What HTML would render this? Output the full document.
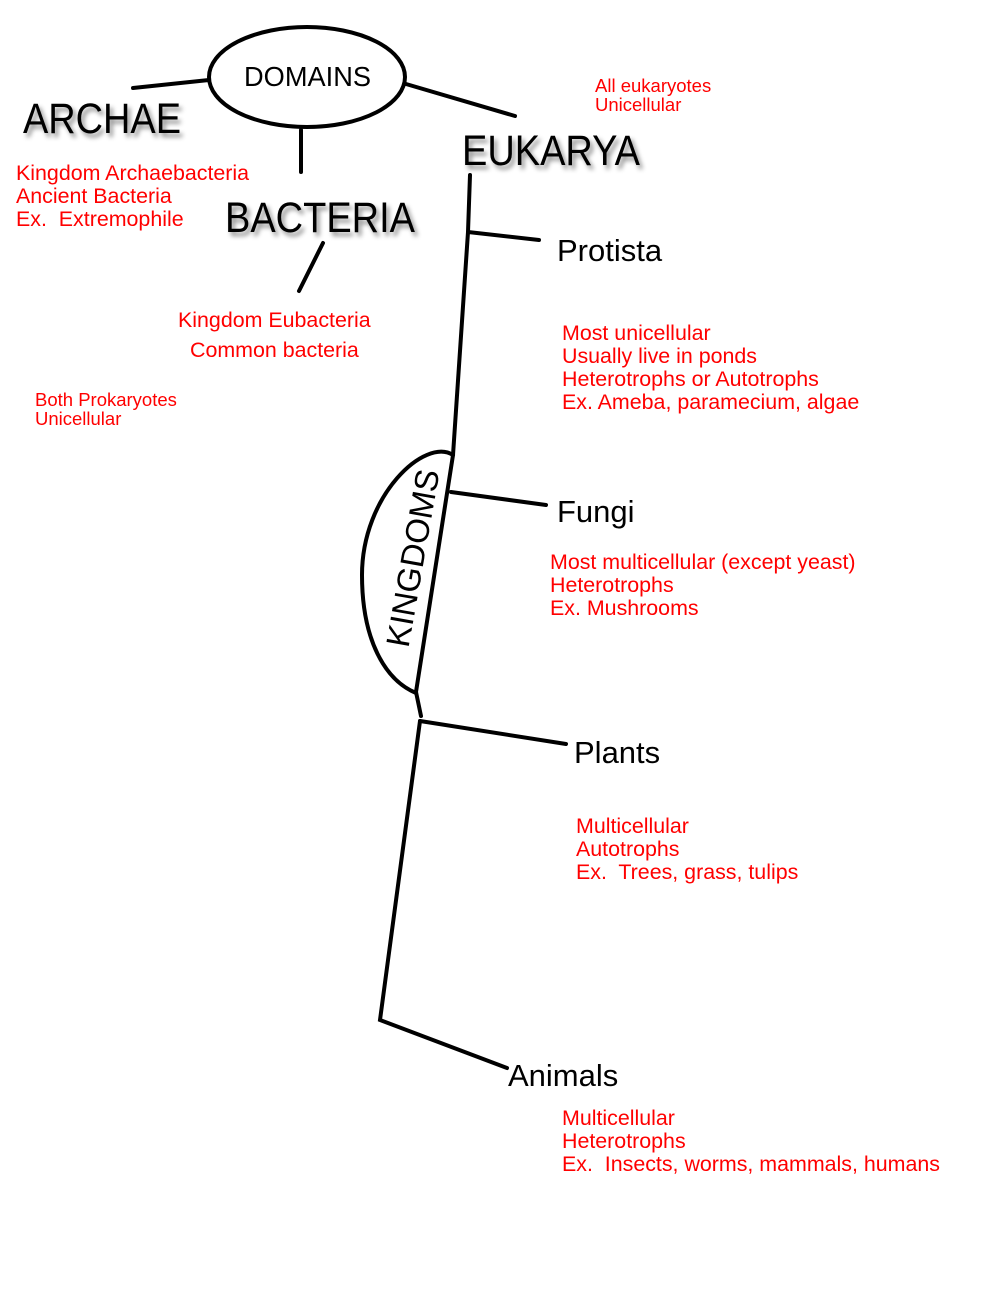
<!DOCTYPE html>
<html><head><meta charset="utf-8"><style>
html,body{margin:0;padding:0;background:#fff;}
svg{display:block;}
text{font-family:"Liberation Sans",sans-serif;white-space:pre;}
.r{fill:#f00;font-size:21.4px;}
.rs{fill:#f00;font-size:18.5px;}
.big{font-size:43px;fill:#000;filter:url(#sh);}
.mid{font-size:31px;fill:#000;}
</style></head><body>
<svg width="1005" height="1300" viewBox="0 0 1005 1300">
<defs><filter id="sh" x="-10%" y="-20%" width="130%" height="160%"><feDropShadow dx="3" dy="4" stdDeviation="2.5" flood-color="#000" flood-opacity="0.45"/></filter></defs>
<g stroke="#000" stroke-width="4" fill="none" stroke-linecap="round">
<ellipse cx="307" cy="77" rx="98" ry="50"/>
<line x1="133" y1="88" x2="209" y2="80"/>
<line x1="406" y1="84" x2="515" y2="116"/>
<line x1="301" y1="130" x2="301" y2="172"/>
<line x1="323" y1="243" x2="299" y2="291"/>
<polyline points="470,175 468,232 453,455 416,692 421,716"/>
<line x1="468" y1="232" x2="539" y2="240"/>
<line x1="451" y1="492" x2="546" y2="505"/>
<line x1="420" y1="721" x2="566" y2="744"/>
<polyline points="420,721 380,1020 507,1068"/>
<path d="M453,455 C425,437 362,495 362,575 C362,640 385,680 416,693"/>
</g>
<text x="244" y="86" font-size="28" textLength="127" lengthAdjust="spacingAndGlyphs">DOMAINS</text>
<text class="big" x="23" y="133" textLength="158" lengthAdjust="spacingAndGlyphs">ARCHAE</text>
<text class="big" x="225" y="232" textLength="190" lengthAdjust="spacingAndGlyphs">BACTERIA</text>
<text class="big" x="462" y="165" textLength="178" lengthAdjust="spacingAndGlyphs">EUKARYA</text>
<text class="mid" x="557" y="261">Protista</text>
<text class="mid" x="557" y="522">Fungi</text>
<text class="mid" x="574" y="763">Plants</text>
<text class="mid" x="508" y="1086">Animals</text>
<text transform="translate(424,560) rotate(-80)" font-size="33" text-anchor="middle" x="0" y="0">KINGDOMS</text>
<text class="r" x="16" y="180">Kingdom Archaebacteria</text>
<text class="r" x="16" y="203">Ancient Bacteria</text>
<text class="r" x="16" y="226">Ex.  Extremophile</text>
<text class="r" x="178" y="327">Kingdom Eubacteria</text>
<text class="r" x="190" y="357">Common bacteria</text>
<text class="rs" x="35" y="406">Both Prokaryotes</text>
<text class="rs" x="35" y="425">Unicellular</text>
<text class="rs" x="595" y="92">All eukaryotes</text>
<text class="rs" x="595" y="111">Unicellular</text>
<text class="r" x="562" y="340">Most unicellular</text>
<text class="r" x="562" y="363">Usually live in ponds</text>
<text class="r" x="562" y="386">Heterotrophs or Autotrophs</text>
<text class="r" x="562" y="409">Ex. Ameba, paramecium, algae</text>
<text class="r" x="550" y="569">Most multicellular (except yeast)</text>
<text class="r" x="550" y="592">Heterotrophs</text>
<text class="r" x="550" y="615">Ex. Mushrooms</text>
<text class="r" x="576" y="833">Multicellular</text>
<text class="r" x="576" y="856">Autotrophs</text>
<text class="r" x="576" y="879">Ex.  Trees, grass, tulips</text>
<text class="r" x="562" y="1125">Multicellular</text>
<text class="r" x="562" y="1148">Heterotrophs</text>
<text class="r" x="562" y="1171">Ex.  Insects, worms, mammals, humans</text>
</svg>
</body></html>
